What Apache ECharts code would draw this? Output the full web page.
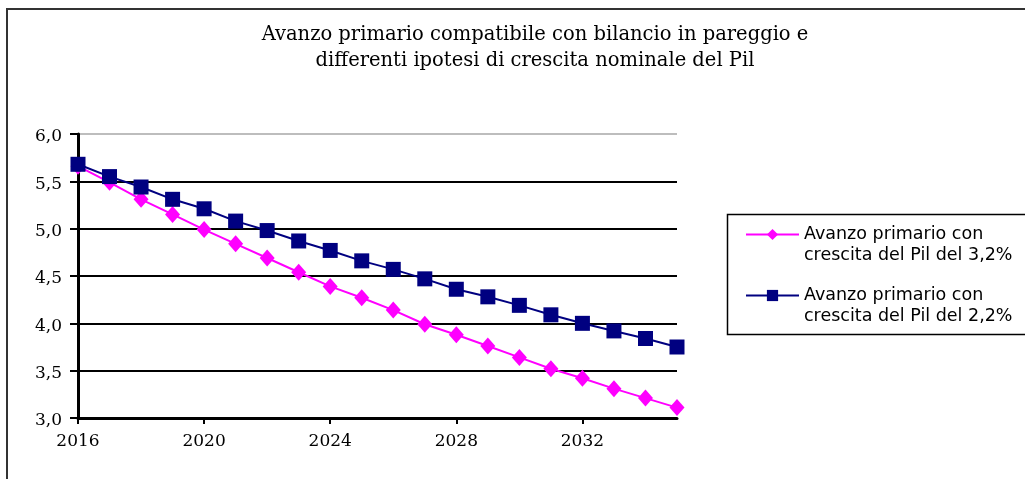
<!DOCTYPE html>
<html>
<head>
<meta charset="utf-8">
<script src="https://cdn.jsdelivr.net/npm/echarts@6/dist/echarts.min.js"></script>
<style>
html,body{margin:0;padding:0;background:#fff;}
#chart{width:1025px;height:479px;}
</style>
</head>
<body>
<div id="chart"></div>
<script>
// ---- data ----
var titleText = 'Avanzo primario compatibile con bilancio in pareggio e\ndifferenti ipotesi di crescita nominale del Pil';
var years = ['2016','2017','2018','2019','2020','2021','2022','2023','2024','2025',
             '2026','2027','2028','2029','2030','2031','2032','2033','2034','2035'];
var seriesNames = ['Avanzo primario con\ncrescita del Pil del 3,2%',
                   'Avanzo primario con\ncrescita del Pil del 2,2%'];
var pil32 = [5.66,5.49,5.31,5.15,4.99,4.84,4.69,4.54,4.39,4.27,
             4.14,3.99,3.88,3.76,3.64,3.52,3.42,3.31,3.21,3.11];
var pil22 = [5.68,5.55,5.44,5.31,5.21,5.08,4.98,4.87,4.77,4.66,
             4.57,4.47,4.36,4.28,4.19,4.09,4.00,3.92,3.84,3.75];
var yMin = 3, yMax = 6, yStep = 0.5;

var serif = 'DejaVu Serif';
var sans = 'DejaVu Sans';

var chart = echarts.init(document.getElementById('chart'), null, {renderer:'canvas'});
chart.setOption({
  animation: false,
  backgroundColor: '#fff',
  title: {
    text: titleText,
    left: 535,
    top: 22,
    padding: 0,
    textAlign: 'center',
    textStyle: {fontFamily: serif, fontSize: 19.5, fontWeight: 'normal', color: '#000', lineHeight: 26}
  },
  graphic: [{
    type: 'rect', silent: true, z: -1,
    shape: {x: 7, y: 9, width: 1200, height: 600},
    style: {fill: null, stroke: '#333', lineWidth: 2}
  }, {
    type: 'rect', silent: true, z: -1,
    shape: {x: 727.5, y: 214.5, width: 400, height: 120},
    style: {fill: null, stroke: '#000', lineWidth: 1.5}
  }],
  legend: {
    orient: 'vertical',
    left: 745,
    top: 203,
    padding: 0,
    itemGap: -2,
    itemWidth: 53,
    itemHeight: 14,
    formatter: function (name) { return '\n' + name; },
    textStyle: {fontFamily: sans, fontSize: 17.5, color: '#000', lineHeight: 21},
    data: seriesNames
  },
  grid: {left: 78, top: 134, right: 348, bottom: 61, containLabel: false},
  xAxis: {
    type: 'category',
    data: years,
    boundaryGap: false,
    axisLine: {show: true, lineStyle: {color: '#000', width: 3}},
    axisTick: {show: true, interval: 3, length: 6, lineStyle: {color: '#000', width: 2}},
    axisLabel: {interval: 3, margin: 15, fontFamily: serif, fontSize: 17, color: '#000'},
    splitLine: {show: false}
  },
  yAxis: {
    type: 'value',
    min: yMin, max: yMax, interval: yStep,
    axisLine: {show: true, lineStyle: {color: '#000', width: 3}},
    axisTick: {show: true, length: 8, lineStyle: {color: '#000', width: 2}},
    axisLabel: {margin: 16, fontFamily: serif, fontSize: 17, color: '#000',
      verticalAlign: 'top', lineHeight: 6,
      formatter: function (v) { return v.toFixed(1).replace('.', ','); }},
    splitLine: {show: true, lineStyle: {color: ['#000','#000','#000','#000','#000','#000','#bdbdbd'], width: 2}}
  },
  series: [{
    name: seriesNames[0],
    type: 'line',
    data: pil32,
    symbol: 'diamond',
    symbolSize: [15, 17],
    color: '#ff00ff',
    lineStyle: {color: '#ff00ff', width: 2},
    itemStyle: {color: '#ff00ff'},
    z: 3
  }, {
    name: seriesNames[1],
    type: 'line',
    data: pil22,
    symbol: 'rect',
    symbolSize: 15,
    color: '#000080',
    lineStyle: {color: '#000080', width: 2},
    itemStyle: {color: '#000080'},
    z: 4
  }]
});
</script>
</body>
</html>
